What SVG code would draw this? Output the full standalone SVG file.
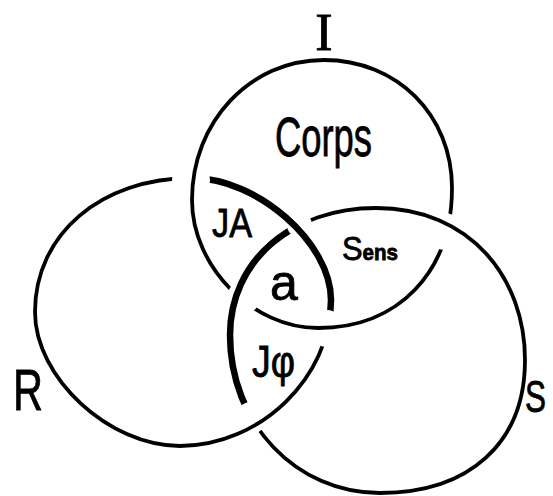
<svg xmlns="http://www.w3.org/2000/svg" width="553" height="496" viewBox="0 0 553 496">
<style>
.ring{fill:none;stroke:#000;stroke-linejoin:round}
.thin{stroke-width:3.8}
.thick{stroke-width:6.5}
.t{font-family:"Liberation Sans",Arial,sans-serif;fill:#000;stroke:#000;stroke-width:0.8}
.serif{font-family:"Liberation Serif","Times New Roman",serif;fill:#000;stroke:#000;stroke-width:0.8}
</style>
<defs>
<path id="pI" d="M324,60 C397,60 452,115 452,188 C452,272 398.4,328 318,328 C252.5,328 192,266.6 192,200 C192,121.6 250.1,60 324,60 Z"/>
<path id="pR" d="M192,178 C257.3,178 331,242.7 331,300 C331,377.4 260,446 180,446 C109,446 35,377.7 35,312 C35,234.3 100.9,178 192,178 Z"/>
<path id="pS" d="M376,208 C470,208 525,278 525,360 C525,442.5 469.9,493 380,493 C296,493 230,423.5 230,335 C230,261.3 291.3,208 376,208 Z"/>
<mask id="mI" maskUnits="userSpaceOnUse" x="0" y="0" width="553" height="496">
<rect width="553" height="496" fill="#fff"/>
<circle cx="243.5" cy="297.5" r="16.5" fill="#000"/>
<circle cx="444.5" cy="231.5" r="18.5" fill="#000"/>
</mask>
<mask id="mR" maskUnits="userSpaceOnUse" x="0" y="0" width="553" height="496">
<rect width="553" height="496" fill="#fff"/>
<circle cx="191" cy="180" r="19" fill="#000"/>
<circle cx="326.5" cy="328.5" r="18.5" fill="#000"/>
</mask>
<mask id="mS" maskUnits="userSpaceOnUse" x="0" y="0" width="553" height="496">
<rect width="553" height="496" fill="#fff"/>
<circle cx="299.5" cy="225" r="12.5" fill="#000"/>
<circle cx="251" cy="418" r="16" fill="#000"/>
</mask>
<clipPath id="cR"><rect x="193" y="0" width="360" height="329"/></clipPath>
<clipPath id="cS"><rect x="0" y="0" width="300" height="418"/></clipPath>
</defs>
<rect width="553" height="496" fill="#fff"/>
<g id="ring-I" mask="url(#mI)">
<use href="#pI" class="ring thin"/>
</g>
<g id="ring-R" mask="url(#mR)">
<use href="#pR" class="ring thin"/>
<use href="#pR" class="ring thick" clip-path="url(#cR)"/>
</g>
<g id="ring-S" mask="url(#mS)">
<use href="#pS" class="ring thin"/>
<use href="#pS" class="ring thick" clip-path="url(#cS)"/>
</g>
<g id="label-I"><text class="serif" x="324" y="50" font-size="52" text-anchor="middle">I</text></g>
<g id="label-R"><text class="t" x="13" y="410" font-size="58" textLength="30" lengthAdjust="spacingAndGlyphs">R</text></g>
<g id="label-S"><text class="t" x="525" y="412" font-size="44" textLength="21" lengthAdjust="spacingAndGlyphs">S</text></g>
<g id="region-corps"><text class="t" x="275" y="156" font-size="56" textLength="97" lengthAdjust="spacingAndGlyphs">Corps</text></g>
<g id="region-JA"><text class="t" x="212" y="237" font-size="40" textLength="40" lengthAdjust="spacingAndGlyphs">JA</text></g>
<g id="region-sens"><text class="t" x="342" y="260" font-size="33" textLength="56" lengthAdjust="spacingAndGlyphs">S<tspan font-size="22" font-weight="bold">ens</tspan></text></g>
<g id="region-a"><text class="t" x="270" y="300" font-size="50">a</text></g>
<g id="region-Jphi"><text class="t" x="252" y="377" font-size="44" textLength="43" lengthAdjust="spacingAndGlyphs">Jφ</text></g>
</svg>
